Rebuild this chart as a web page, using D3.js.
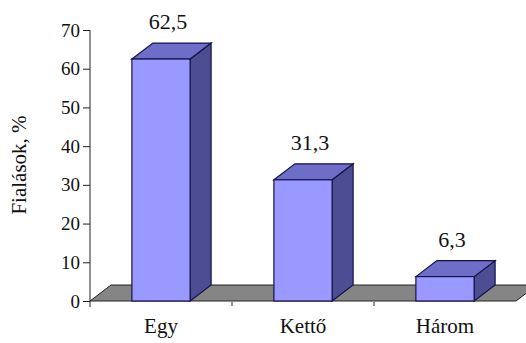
<!DOCTYPE html>
<html><head><meta charset="utf-8">
<script src="https://cdn.jsdelivr.net/npm/d3@7"></script>
</head><body style="margin:0">
<svg id="c" width="526" height="343" font-family="Liberation Serif"></svg>
<script>
const categories = ["Egy", "Kettő", "Három"];
const values = [62.5, 31.3, 6.3];
const valueLabels = ["62,5", "31,3", "6,3"];
const yTicks = [0, 10, 20, 30, 40, 50, 60, 70];
const yTitle = "Fialások, %";

const svg = d3.select("#c");
const dx = 21, dy = -16;
const x = d3.scaleBand().domain(categories).range([90, 516]).paddingInner(0.59).paddingOuter(0.295);
const y = d3.scaleLinear().domain([0, 70]).range([301, 30]);
const y0 = y(0);

function serif(sel, size) {
  return sel.attr("font-family", "Liberation Serif").style("font-family", "\"Liberation Serif\"").style("font-size", size + "px");
}

// floor
svg.append("polygon")
  .attr("points", [[90, y0], [516, y0], [516 + dx, y0 + dy], [90 + dx, y0 + dy]].map(p => p.join(",")).join(" "))
  .attr("fill", "#858585").attr("stroke", "#222").attr("stroke-width", 1);

// category ticks under floor
svg.selectAll(".ct").data(categories.map(c => x(c) - x.step() * x.paddingInner() / 2).slice(1))
  .enter().append("line")
  .attr("x1", d => d).attr("x2", d => d).attr("y1", y0 + 1).attr("y2", y0 + 5)
  .attr("stroke", "#222");

// y axis
const ax = svg.append("g").attr("transform", "translate(90,0)")
  .call(d3.axisLeft(y).tickValues(yTicks).tickSize(7).tickPadding(3).tickFormat(d3.format("d")));
ax.attr("font-family", "Liberation Serif").attr("font-size", 19);
ax.select(".domain").attr("d", `M0,${y(70)}V${y0 + 6}`).attr("stroke", "#222");
ax.selectAll(".tick line").attr("stroke", "#222");
serif(ax.selectAll(".tick text"), 19).attr("fill", "#111");

// bars
const g = svg.selectAll(".bar").data(categories).enter().append("g");
g.each(function (c, i) {
  const sel = d3.select(this);
  const x0 = x(c), x1 = x(c) + x.bandwidth(), yt = y(values[i]);
  sel.append("polygon")
    .attr("points", [[x1, yt], [x1 + dx, yt + dy], [x1 + dx, y0 + dy], [x1, y0]].map(p => p.join(",")).join(" "))
    .attr("fill", "#4d4d94").attr("stroke", "#14144a").attr("stroke-width", 1.2);
  sel.append("polygon")
    .attr("points", [[x0, yt], [x0 + dx, yt + dy], [x1 + dx, yt + dy], [x1, yt]].map(p => p.join(",")).join(" "))
    .attr("fill", "#6e6ec9").attr("stroke", "#14144a").attr("stroke-width", 1.2);
  sel.append("rect")
    .attr("x", x0).attr("y", yt).attr("width", x.bandwidth()).attr("height", y0 - yt)
    .attr("fill", "#9999ff").attr("stroke", "#14144a").attr("stroke-width", 1.2);
  serif(sel.append("text"), 22)
    .attr("x", x0 + x.bandwidth() / 2 + 7).attr("y", yt + dy - 14)
    .attr("text-anchor", "middle").attr("fill", "#111")
    .text(valueLabels[i]);
  serif(sel.append("text"), 21)
    .attr("x", x0 + x.bandwidth() / 2).attr("y", 333)
    .attr("text-anchor", "middle").attr("fill", "#111")
    .text(c);
});

// y title
serif(svg.append("text"), 21)
  .attr("transform", "translate(26,165) rotate(-90)")
  .attr("text-anchor", "middle").attr("fill", "#111")
  .text(yTitle);
</script>
</body></html>
